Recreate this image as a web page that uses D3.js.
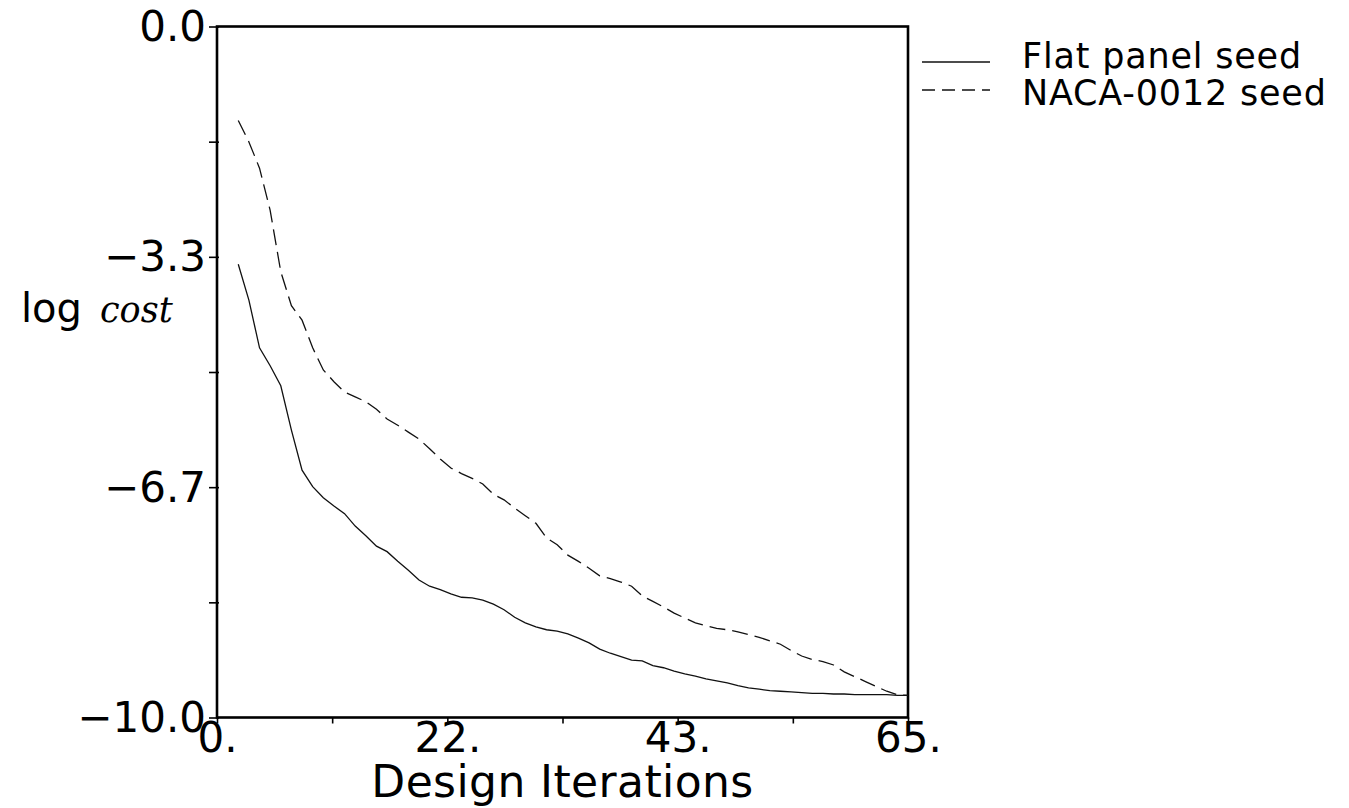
<!DOCTYPE html>
<html>
<head>
<meta charset="utf-8">
<script src="https://cdn.jsdelivr.net/npm/d3@7"></script>
<style>
  html, body { margin: 0; padding: 0; background: #fff; }
  svg { display: block; }
  text { fill: #000; font-family: "DejaVu Sans", sans-serif; }
</style>
</head>
<body>
<svg id="chart" width="1349" height="808"></svg>
<script>
// Design iteration numbers (both runs start at iteration 2)
const iterations = d3.range(2, 66);

// log cost history, flat panel seed
const flatPanel = [
  -3.44, -3.96, -4.65, -4.91, -5.20, -5.84, -6.42, -6.66, -6.82, -6.94,
  -7.05, -7.23, -7.37, -7.52, -7.60, -7.74, -7.87, -8.01, -8.10, -8.15,
  -8.21, -8.26, -8.27, -8.30, -8.36, -8.44, -8.55, -8.63, -8.69, -8.73,
  -8.75, -8.79, -8.85, -8.92, -9.01, -9.07, -9.12, -9.17, -9.18, -9.25,
  -9.28, -9.33, -9.37, -9.40, -9.44, -9.47, -9.50, -9.54, -9.57, -9.59,
  -9.61, -9.62, -9.63, -9.64, -9.65, -9.65, -9.66, -9.66, -9.67, -9.67,
  -9.67, -9.67, -9.68, -9.68
];

// log cost history, NACA-0012 seed
const naca0012 = [
  -1.36, -1.67, -2.05, -2.66, -3.55, -4.04, -4.25, -4.65, -4.97, -5.14,
  -5.29, -5.36, -5.43, -5.54, -5.68, -5.77, -5.87, -5.97, -6.11, -6.26,
  -6.39, -6.47, -6.54, -6.62, -6.77, -6.85, -6.97, -7.08, -7.19, -7.40,
  -7.50, -7.65, -7.74, -7.84, -7.95, -7.99, -8.04, -8.10, -8.24, -8.32,
  -8.40, -8.49, -8.56, -8.63, -8.67, -8.71, -8.73, -8.76, -8.80, -8.84,
  -8.89, -8.94, -9.03, -9.11, -9.16, -9.19, -9.24, -9.34, -9.41, -9.48,
  -9.55, -9.62, -9.67, -9.68
];

// Axis ticks: six intervals on each axis, every second one labelled
const xTicks = d3.range(0, 7).map(k => k * 65 / 6);
const xTickLabels = ["0.", "", "22.", "", "43.", "", "65."];
const yTicks = d3.range(0, 7).map(k => -k * 10 / 6);
const yTickLabels = ["0.0", "", "\u22123.3", "", "\u22126.7", "", "\u221210.0"];

const seriesNames = ["Flat panel seed", "NACA-0012 seed"];

const svg = d3.select("#chart");
const plot = { left: 217, right: 908, top: 26.5, bottom: 717.5 };

const x = d3.scaleLinear().domain([0, 65]).range([plot.left, plot.right]);
const y = d3.scaleLinear().domain([0, -10]).range([plot.top, plot.bottom]);

// Frame
svg.append("rect")
  .attr("x", plot.left).attr("y", plot.top)
  .attr("width", plot.right - plot.left).attr("height", plot.bottom - plot.top)
  .attr("fill", "none").attr("stroke", "#000").attr("stroke-width", 2.6);

// Bottom axis
const xAxis = svg.append("g")
  .attr("transform", `translate(0,${plot.bottom})`)
  .call(d3.axisBottom(x).tickValues(xTicks).tickSize(6).tickPadding(3)
    .tickFormat((d, i) => xTickLabels[i]));
xAxis.select(".domain").remove();
xAxis.selectAll(".tick line").attr("stroke", "#000").attr("stroke-width", 1.6);
xAxis.selectAll(".tick text")
  .attr("font-family", "DejaVu Sans").attr("font-size", 42)
  .attr("fill", "#000").attr("dy", "0.6em");

// Left axis
const yAxis = svg.append("g")
  .attr("transform", `translate(${plot.left},0)`)
  .call(d3.axisLeft(y).tickValues(yTicks).tickSize(8).tickPadding(3)
    .tickFormat((d, i) => yTickLabels[i]));
yAxis.select(".domain").remove();
yAxis.selectAll(".tick line").attr("stroke", "#000").attr("stroke-width", 1.6).attr("x2", -8).attr("x1", 2);
yAxis.selectAll(".tick text")
  .attr("font-family", "DejaVu Sans").attr("font-size", 42)
  .attr("fill", "#000").attr("dy", "0.33em");

// Axis titles
svg.append("text")
  .attr("x", (plot.left + plot.right) / 2).attr("y", 797)
  .attr("text-anchor", "middle").attr("font-size", 44)
  .attr("letter-spacing", 0.4)
  .text("Design Iterations");

const yTitle = svg.append("text").attr("x", 21).attr("y", 322);
yTitle.append("tspan").attr("font-size", 40).text("log");
yTitle.append("tspan").attr("x", 100)
  .attr("font-family", "DejaVu Serif").attr("font-style", "italic")
  .attr("font-size", 35).text("cost");

// Convergence curves
const line = d3.line()
  .x((d, i) => x(iterations[i]))
  .y(d => y(d));

svg.append("path").datum(flatPanel)
  .attr("d", line).attr("fill", "none")
  .attr("stroke", "#111").attr("stroke-width", 1.3);

svg.append("path").datum(naca0012)
  .attr("d", line).attr("fill", "none")
  .attr("stroke", "#111").attr("stroke-width", 1.3)
  .attr("stroke-dasharray", "16,7");

// Legend
const legend = svg.append("g");
const legendRows = [
  { name: seriesNames[0], dash: null, lineY: 62, textY: 68 },
  { name: seriesNames[1], dash: "13,7", lineY: 90, textY: 105 }
];
legendRows.forEach(r => {
  legend.append("line")
    .attr("x1", 922).attr("x2", 990).attr("y1", r.lineY).attr("y2", r.lineY)
    .attr("stroke", "#111").attr("stroke-width", 1.3)
    .attr("stroke-dasharray", r.dash);
  legend.append("text")
    .attr("x", 1022).attr("y", r.textY)
    .attr("font-size", 35).attr("letter-spacing", 0.8)
    .text(r.name);
});
</script>
</body>
</html>
